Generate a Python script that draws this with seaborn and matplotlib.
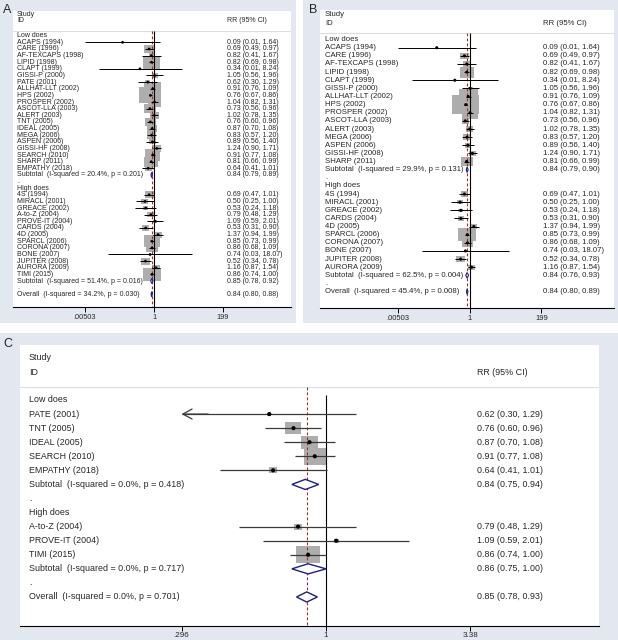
import numpy as np
import pandas as pd
import matplotlib
matplotlib.use("Agg")
import matplotlib.pyplot as plt
import matplotlib.transforms as mtrans
from matplotlib.patches import Polygon, Rectangle
from matplotlib.ticker import NullLocator
import seaborn as sns

# ---------------- data ----------------
STUDY = ["ACAPS (1994)", "CARE (1996)", "AF-TEXCAPS (1998)", "LIPID (1998)", "CLAPT (1999)",
         "GISSI-P (2000)", "PATE (2001)", "ALLHAT-LLT (2002)", "HPS (2002)", "PROSPER (2002)",
         "ASCOT-LLA (2003)", "ALERT (2003)", "TNT (2005)", "IDEAL (2005)", "MEGA (2006)",
         "ASPEN (2006)", "GISSI-HF (2008)", "SEARCH (2010)", "SHARP (2011)", "EMPATHY (2018)",
         "4S (1994)", "MIRACL (2001)", "GREACE (2002)", "A-to-Z (2004)", "PROVE-IT (2004)",
         "CARDS (2004)", "4D (2005)", "SPARCL (2006)", "CORONA (2007)", "BONE (2007)",
         "JUPITER (2008)", "AURORA (2009)", "TIMI (2015)"]
RR = [0.09, 0.69, 0.82, 0.82, 0.34, 1.05, 0.62, 0.91, 0.76, 1.04, 0.73, 1.02, 0.76, 0.87, 0.83,
      0.89, 1.24, 0.91, 0.81, 0.64,
      0.69, 0.50, 0.53, 0.79, 1.09, 0.53, 1.37, 0.85, 0.86, 0.74, 0.52, 1.16, 0.86]
LO = [0.00503, 0.49, 0.41, 0.69, 0.0146, 0.56, 0.2955, 0.76, 0.67, 0.82, 0.56, 0.78, 0.60, 0.70, 0.57,
      0.56, 0.90, 0.77, 0.66, 0.41,
      0.47, 0.25, 0.24, 0.48, 0.59, 0.31, 0.94, 0.73, 0.68, 0.03, 0.34, 0.87, 0.74]
HI = [1.64, 0.97, 1.67, 0.98, 8.24, 1.96, 1.29, 1.09, 0.86, 1.31, 0.96, 1.35, 0.96, 1.08, 1.20,
      1.40, 1.71, 1.08, 0.99, 1.01,
      1.01, 1.00, 1.18, 1.29, 2.01, 0.90, 1.99, 0.99, 1.09, 18.07, 0.78, 1.54, 1.00]

GROUPS = ["Low does", "High does"]

# Panel A
A_LOW = STUDY[:20]
A_HIGH = STUDY[20:]
A_W_LOW = [0.1, 2.9, 0.9, 7.9, 0.05, 0.9, 0.6, 7.9, 12.7, 5.1, 3.5, 2.3, 2.9, 2.9, 2.3, 1.3, 2.3, 6.0, 5.1, 1.3]
A_W_HIGH = [2.3, 1.3, 0.6, 1.3, 0.6, 1.3, 1.7, 6.9, 3.5, 0.05, 2.3, 1.7, 7.9]
A_POOL_RR = [0.84, 0.85, 0.84]
A_POOL_LO = [0.79, 0.78, 0.80]
A_POOL_HI = [0.89, 0.92, 0.88]
A_I2 = [20.4, 51.4, 34.2]
A_P = [0.201, 0.016, 0.030]

# Panel B
B_LOW = ["ACAPS (1994)", "CARE (1996)", "AF-TEXCAPS (1998)", "LIPID (1998)", "CLAPT (1999)",
         "GISSI-P (2000)", "ALLHAT-LLT (2002)", "HPS (2002)", "PROSPER (2002)", "ASCOT-LLA (2003)",
         "ALERT (2003)", "MEGA (2006)", "ASPEN (2006)", "GISSI-HF (2008)", "SHARP (2011)"]
B_HIGH = ["4S (1994)", "MIRACL (2001)", "GREACE (2002)", "CARDS (2004)", "4D (2005)",
          "SPARCL (2006)", "CORONA (2007)", "BONE (2007)", "JUPITER (2008)", "AURORA (2009)"]
B_W_LOW = [0.2, 2.5, 1.8, 7.3, 0.05, 0.8, 12.9, 24.4, 9.9, 1.8, 1.8, 1.8, 1.3, 1.8, 5.0]
B_W_HIGH = [1.8, 1.3, 0.8, 1.3, 1.8, 11.3, 4.1, 0.05, 2.5, 1.8]
B_POOL_RR = [0.84, 0.84, 0.84]
B_POOL_LO = [0.79, 0.76, 0.80]
B_POOL_HI = [0.90, 0.93, 0.89]
B_I2 = [29.9, 62.5, 45.4]
B_P = [0.131, 0.004, 0.008]

# Panel C
C_LOW = ["PATE (2001)", "TNT (2005)", "IDEAL (2005)", "SEARCH (2010)", "EMPATHY (2018)"]
C_HIGH = ["A-to-Z (2004)", "PROVE-IT (2004)", "TIMI (2015)"]
C_W_LOW = [0.9, 14.4, 16.3, 28.8, 3.6]
C_W_HIGH = [3.6, 1.4, 31.0]
C_POOL_RR = [0.84, 0.86, 0.85]
C_POOL_LO = [0.75, 0.75, 0.78]
C_POOL_HI = [0.94, 1.00, 0.93]
C_I2 = [0.0, 0.0, 0.0]
C_P = [0.418, 0.717, 0.701]

AB_TICKS = [0.00503, 1, 199]
AB_TICKLABELS = [".00503", "1", "199"]
C_TICKS = [0.296, 1, 3.38]
C_TICKLABELS = [".296", "1", "3.38"]

# ---------------- style ----------------
sns.set_theme(style="white")
plt.rcParams["font.family"] = ["Liberation Sans", "DejaVu Sans"]

W, H = 618, 640
BG = "#e3e7f0"
BOX = "#adadad"
NAVY = "#1c2080"
RED = "#9e2a2a"

fig = plt.figure(figsize=(W / 100, H / 100), dpi=100)
fig.patch.set_facecolor("white")

for (x0, y0, x1, y1) in [(0, 0, 296, 323), (303, 0, 618, 323), (0, 333, 618, 640)]:
    fig.add_artist(Rectangle((x0 / W, 1 - y1 / H), (x1 - x0) / W, (y1 - y0) / H,
                             transform=fig.transFigure, facecolor=BG, edgecolor="none", zorder=0))


def build_rows(low, high, wlow, whigh, prr, plo, phi, i2, p):
    rows = []
    r = 0
    for g, (names, ws) in enumerate([(low, wlow), (high, whigh)]):
        rows.append(dict(kind="head", row=r, label=GROUPS[g])); r += 1
        for n, w in zip(names, ws):
            i = STUDY.index(n)
            rows.append(dict(kind="study", row=r, label=n, rr=RR[i], lo=LO[i], hi=HI[i], w=w)); r += 1
        rows.append(dict(kind="pool", row=r,
                         label=f"Subtotal  (I-squared = {i2[g]:.1f}%, p = {p[g]:.3f})",
                         rr=prr[g], lo=plo[g], hi=phi[g])); r += 1
        rows.append(dict(kind="dot", row=r, label=".")); r += 1
    rows.append(dict(kind="pool", row=r,
                     label=f"Overall  (I-squared = {i2[2]:.1f}%, p = {p[2]:.3f})",
                     rr=prr[2], lo=plo[2], hi=phi[2]))
    return pd.DataFrame(rows)


def draw_panel(df, cfg, ticks, ticklabels):
    x0, y0, x1, y1 = cfg["rect"]
    ax = fig.add_axes([x0 / W, 1 - y1 / H, (x1 - x0) / W, (y1 - y0) / H], zorder=2)
    ax.set_facecolor("white")
    nx, sc = cfg["nullx"], cfg["scale"]
    r0, sp = cfg["row0"], cfg["sp"]
    ax.set_xscale("log")
    ax.set_xlim(np.exp((x0 - nx) / sc), np.exp((x1 - nx) / sc))
    ax.set_ylim((y1 - r0) / sp, (y0 - r0) / sp)
    to_row = lambda ypx: (ypx - r0) / sp
    fs = cfg["fs"]

    trans = mtrans.blended_transform_factory(ax.transAxes, ax.transData)
    lx = (cfg["labelx"] - x0) / (x1 - x0)
    rx = (cfg["rrx"] - x0) / (x1 - x0)

    # header
    ax.text(lx, to_row(cfg["study_y"]), "Study", transform=trans, fontsize=fs, va="center", ha="left")
    ax.text(lx, to_row(cfg["id_y"]), "ID", transform=trans, fontsize=fs, va="center", ha="left")
    ax.text(rx, to_row(cfg["id_y"]), "RR (95% CI)", transform=trans, fontsize=fs, va="center", ha="left")
    ax.axhline(to_row(cfg["sep_y"]), color="#d8dde8", lw=0.8, zorder=1)

    bottom = ax.get_ylim()[0]
    overall = df[df.kind == "pool"].iloc[-1]
    ax.vlines(1, to_row(cfg["null_top"]), bottom, color="black", lw=0.8, zorder=2)
    ax.vlines(overall.rr, to_row(cfg["dash_top"]), bottom, color=RED, lw=0.8,
              linestyles=(0, (2.5, 2)), zorder=2)

    st = df[df.kind == "study"].copy()
    st["w"] = st["w"].astype(float)
    wmax = st["w"].max()
    rect_marker = [(-1.35, -1), (1.35, -1), (1.35, 1), (-1.35, 1), (-1.35, -1)]
    sns.scatterplot(data=st, x="rr", y="row", size="w", sizes=(0, cfg["k"] * wmax),
                    size_norm=(0, wmax), marker=rect_marker, color=BOX, edgecolor="none",
                    linewidth=0, legend=False, ax=ax, zorder=1)

    tmin, tmax = ticks[0], ticks[-1]
    for _, s in st.iterrows():
        lo = max(s.lo, tmin) if s.lo < tmin * 0.999 else s.lo
        hi = min(s.hi, tmax) if s.hi > tmax * 1.001 else s.hi
        ax.hlines(s.row, lo, hi, color=cfg["cicol"], lw=cfg["cilw"], zorder=3)
        if s.lo < tmin * 0.999:
            ax.annotate("", xy=(tmin, s.row), xytext=(tmin * 1.25, s.row),
                        arrowprops=dict(arrowstyle="->,head_length=0.55,head_width=0.3",
                                        color=cfg["cicol"], lw=cfg["cilw"], shrinkA=0, shrinkB=0),
                        zorder=3)
    sns.scatterplot(data=st, x="rr", y="row", marker="o", color="black", s=cfg["dot"],
                    edgecolor="none", linewidth=0, legend=False, ax=ax, zorder=4)

    for _, pl in df[df.kind == "pool"].iterrows():
        h = cfg["dh"]
        ax.add_patch(Polygon([(pl.lo, pl.row), (pl.rr, pl.row - h), (pl.hi, pl.row), (pl.rr, pl.row + h)],
                             closed=True, facecolor="white", edgecolor=NAVY, lw=cfg["dlw"], zorder=5))

    for _, rw in df.iterrows():
        ax.text(lx, rw.row, rw.label, transform=trans, fontsize=fs, va="center", ha="left")
        if rw.kind in ("study", "pool"):
            ax.text(rx, rw.row, f"{rw.rr:.2f} ({rw.lo:.2f}, {rw.hi:.2f})", transform=trans,
                    fontsize=fs, va="center", ha="left")

    for sname in ["top", "right", "left"]:
        ax.spines[sname].set_visible(False)
    ax.spines["bottom"].set_color("black")
    ax.spines["bottom"].set_linewidth(0.8)
    ax.set_xticks(ticks)
    ax.set_xticklabels(ticklabels)
    ax.xaxis.set_minor_locator(NullLocator())
    ax.set_yticks([])
    ax.set_xlabel("")
    ax.set_ylabel("")
    ax.tick_params(axis="x", bottom=True, direction="out", length=3.5, width=0.7, color="black",
                   labelsize=cfg["tfs"], pad=1.5)
    return ax


cfgA = dict(rect=(13, 11, 291, 306.7), nullx=154, scale=13.04, row0=35.7, sp=6.63, labelx=17, rrx=227,
            fs=5.0, tfs=5.3, study_y=15, id_y=21, sep_y=31, null_top=31, dash_top=31,
            k=19.5, dot=4, cicol="black", cilw=0.7, dh=0.4, dlw=0.8)
cfgB = dict(rect=(320, 10, 614, 307.7), nullx=469.5, scale=13.6, row0=39.6, sp=8.13, labelx=325, rrx=543,
            fs=5.6, tfs=5.5, study_y=15, id_y=24, sep_y=33, null_top=33, dash_top=33,
            k=15.0, dot=5, cicol="black", cilw=0.7, dh=0.35, dlw=0.8)
cfgC = dict(rect=(20, 345, 599, 625.5), nullx=326, scale=118.6, row0=400, sp=14.07, labelx=29, rrx=477,
            fs=6.4, tfs=5.8, study_y=358, id_y=373, sep_y=387, null_top=395, dash_top=387,
            k=9.2, dot=9, cicol="#3a3a3a", cilw=0.9, dh=0.36, dlw=1.0)

dfA = build_rows(A_LOW, A_HIGH, A_W_LOW, A_W_HIGH, A_POOL_RR, A_POOL_LO, A_POOL_HI, A_I2, A_P)
dfB = build_rows(B_LOW, B_HIGH, B_W_LOW, B_W_HIGH, B_POOL_RR, B_POOL_LO, B_POOL_HI, B_I2, B_P)
dfC = build_rows(C_LOW, C_HIGH, C_W_LOW, C_W_HIGH, C_POOL_RR, C_POOL_LO, C_POOL_HI, C_I2, C_P)

draw_panel(dfA, cfgA, AB_TICKS, AB_TICKLABELS)
draw_panel(dfB, cfgB, AB_TICKS, AB_TICKLABELS)
draw_panel(dfC, cfgC, C_TICKS, C_TICKLABELS)

fig.text(3 / W, 1 - 10 / H, "A", fontsize=9, va="center", ha="left")
fig.text(309 / W, 1 - 10 / H, "B", fontsize=9, va="center", ha="left")
fig.text(3 / W, 1 - 344 / H, "C", fontsize=9, va="center", ha="left")

fig.savefig("out.png", dpi=100, facecolor=fig.get_facecolor())
